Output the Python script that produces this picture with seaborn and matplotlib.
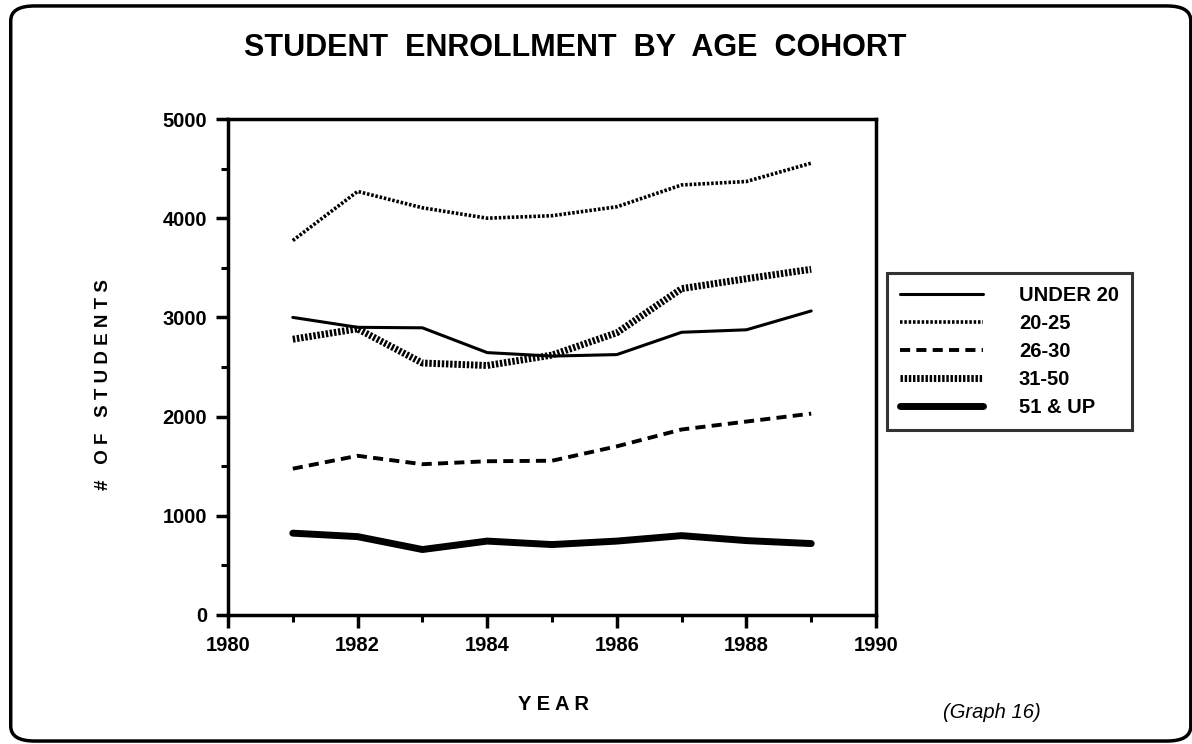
import pandas as pd
import seaborn as sns
import matplotlib.pyplot as plt
from matplotlib.patches import FancyBboxPatch
from matplotlib.ticker import MultipleLocator

# Enrollment values
years = [1981, 1982, 1983, 1984, 1985, 1986, 1987, 1988, 1989]
under_20 = [3000, 2900, 2895, 2645, 2610, 2625, 2850, 2875, 3065]
age_20_25 = [3775, 4270, 4105, 4000, 4025, 4115, 4335, 4370, 4555]
age_26_30 = [1475, 1605, 1520, 1550, 1555, 1700, 1870, 1950, 2030]
age_31_50 = [2780, 2885, 2540, 2515, 2620, 2845, 3290, 3390, 3485]
age_51_up = [825, 790, 660, 745, 710, 745, 800, 750, 720]

cohorts = ["UNDER 20", "20-25", "26-30", "31-50", "51 & UP"]
series = [under_20, age_20_25, age_26_30, age_31_50, age_51_up]

rows = []
for name, vals in zip(cohorts, series):
    for yr, v in zip(years, vals):
        rows.append({"year": yr, "students": v, "cohort": name})
df = pd.DataFrame(rows)

# line look for each cohort: (linewidth, dash pattern)
styles = {
    "UNDER 20": (2.2, "-"),
    "20-25": (2.6, (0, (0.7, 0.5))),
    "26-30": (2.8, (0, (2.6, 1.6))),
    "31-50": (5.0, (0, (0.35, 0.25))),
    "51 & UP": (5.0, "-"),
}

sns.set_style("white", {"text.color": "black", "axes.labelcolor": "black",
                        "xtick.color": "black", "ytick.color": "black",
                        "axes.edgecolor": "black"})
plt.rcParams["font.family"] = ["Liberation Sans", "DejaVu Sans"]

fig = plt.figure(figsize=(11.92, 7.44), dpi=100)
ax = fig.add_axes([228 / 1192, 1 - 615 / 744, 648 / 1192, 496 / 744])

for name in cohorts:
    lw, ls = styles[name]
    sns.lineplot(data=df[df["cohort"] == name], x="year", y="students",
                 ax=ax, color="black", linewidth=lw, linestyle=ls,
                 label=name, legend=False)

ax.set_xlim(1980, 1990)
ax.set_ylim(0, 5000)
ax.xaxis.set_major_locator(MultipleLocator(2))
ax.xaxis.set_minor_locator(MultipleLocator(1))
ax.yaxis.set_major_locator(MultipleLocator(1000))
ax.yaxis.set_minor_locator(MultipleLocator(500))
ax.tick_params(axis="both", which="major", direction="out", length=9, width=2.5,
               labelsize=14.5, pad=6, bottom=True, left=True, colors="black")
ax.tick_params(axis="both", which="minor", direction="out", length=5, width=2.2,
               bottom=True, left=True, colors="black")
for lab in ax.get_xticklabels() + ax.get_yticklabels():
    lab.set_fontweight("bold")
for sp in ax.spines.values():
    sp.set_visible(True)
    sp.set_color("black")
    sp.set_linewidth(2.5)

ax.set_xlabel("")
ax.set_ylabel("")
fig.text(553 / 1192, 1 - 705 / 744, "Y E A R", ha="center", va="center",
         fontsize=14.5, fontweight="bold")
fig.text(103 / 1192, 1 - 385 / 744, "#   O F   S T U D E N T S", ha="center",
         va="center", rotation=90, fontsize=13.5, fontweight="bold")

handles, labels = ax.get_legend_handles_labels()
leg = fig.legend(handles, labels, loc="upper left",
                 bbox_to_anchor=(887 / 1192, 1 - 273 / 744), borderaxespad=0,
                 frameon=True, fancybox=False, edgecolor="black",
                 fontsize=14.5, handlelength=4.1, handletextpad=1.8,
                 labelspacing=0.45, borderpad=0.65)
leg.get_frame().set_linewidth(2.2)
for t in leg.get_texts():
    t.set_fontweight("bold")
    t.set_color("black")

fig.text(0.483, 1 - 48 / 744, "STUDENT  ENROLLMENT  BY  AGE  COHORT",
         ha="center", va="center", fontsize=22, fontweight="bold")
fig.text(992 / 1192, 1 - 712 / 744, "(Graph 16)", ha="center", va="center",
         fontsize=14.5, fontstyle="italic")

# rounded page border
border = FancyBboxPatch((0.009, 0.004), 0.99, 0.988,
                        boxstyle="round,pad=0,rounding_size=0.02",
                        transform=fig.transFigure, fill=False,
                        edgecolor="black", linewidth=2.5)
fig.patches.append(border)

fig.savefig("out.png", dpi=100)
